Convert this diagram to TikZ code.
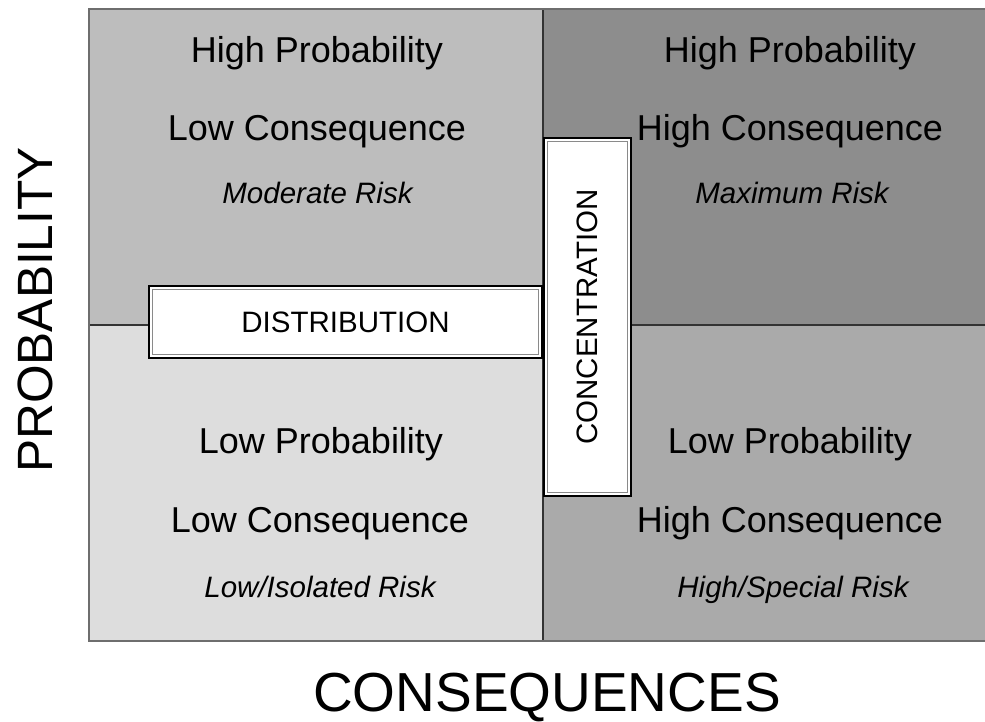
\documentclass[tikz,border=0pt]{standalone}
\usepackage{fontspec}
\setmainfont{Liberation Sans}
\definecolor{qTL}{HTML}{BDBDBD}
\definecolor{qTR}{HTML}{8D8D8D}
\definecolor{qBL}{HTML}{DDDDDD}
\definecolor{qBR}{HTML}{AAAAAA}
\definecolor{frameclr}{HTML}{6E6E6E}
\definecolor{innerclr}{HTML}{8A8A8A}
\begin{document}
\begin{tikzpicture}[x=1pt,y=-1pt,
  qtext/.style={anchor=base, font=\fontsize{36}{40}\selectfont, inner sep=0pt},
  rtext/.style={anchor=base, font=\fontsize{29.5}{32}\selectfont\itshape, inner sep=0pt},
  labelbox/.style={draw=black, line width=2.4pt, fill=white, inner sep=0pt, font=\fontsize{29.5}{32}\selectfont},
  innerline/.style={draw=innerclr, line width=1.2pt},
  divider/.style={draw=black!80, line width=1.4pt},
  frameline/.style={draw=frameclr, line width=2pt},
  axislabel/.style={inner sep=0pt}]
\useasboundingbox (0,0) rectangle (985,722);
% quadrants
\fill[qTL] (89,9) rectangle (543,325);
\fill[qTR] (543,9) rectangle (986,325);
\fill[qBL] (89,325) rectangle (543,641);
\fill[qBR] (543,325) rectangle (986,641);
\draw[divider] (89,325) -- (986,325);
\draw[divider] (543,9) -- (543,641);
\draw[frameline] (986,9) -- (89,9) -- (89,641) -- (986,641);
% top-left
\node[qtext] (tl1) at (317,63) {High Probability};
\node[qtext] (tl2) at (317,141) {Low Consequence};
\node[rtext] (tl3) at (317.5,204) {Moderate Risk};
% top-right
\node[qtext] (tr1) at (790,63) {High Probability};
\node[qtext] (tr2) at (790,141) {High Consequence};
\node[rtext] (tr3) at (792,204) {Maximum Risk};
% bottom-left
\node[qtext] (bl1) at (321,453) {Low Probability};
\node[qtext] (bl2) at (320,532) {Low Consequence};
\node[rtext] (bl3) at (320,597) {Low/Isolated Risk};
% bottom-right
\node[qtext] (br1) at (790,453) {Low Probability};
\node[qtext] (br2) at (790,532) {High Consequence};
\node[rtext] (br3) at (793,597) {High/Special Risk};
% boxes
\node[labelbox, minimum width=393pt, minimum height=72pt] (dist) at (345.5,322) {DISTRIBUTION};
\draw[innerline] ([shift={(5pt,-5pt)}]dist.north west) rectangle ([shift={(-5pt,5pt)}]dist.south east);
\node[labelbox, minimum width=87pt, minimum height=358pt] (conc) at (587.5,317) {\rotatebox{90}{CONCENTRATION}};
\draw[innerline] ([shift={(5pt,-5pt)}]conc.north west) rectangle ([shift={(-5pt,5pt)}]conc.south east);
% axis labels
\node[axislabel, rotate=90, font=\fontsize{49.6}{52}\selectfont] (prob) at (35,310) {PROBABILITY};
\node[axislabel, anchor=base, font=\fontsize{55}{60}\selectfont] (cons) at (547,711) {CONSEQUENCES};
\end{tikzpicture}
\end{document}
